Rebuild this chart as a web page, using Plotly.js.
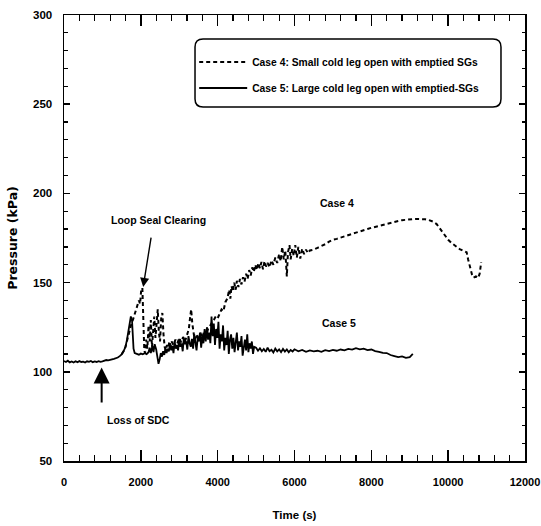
<!DOCTYPE html>
<html>
<head>
<meta charset="utf-8">
<script src="https://cdn.plot.ly/plotly-3.0.1.min.js"></script>
<style>html,body{margin:0;padding:0;background:#fff;}#chart{width:541px;height:526px;}</style>
</head>
<body>
<div id="chart"></div>
<script>
// ---- data ----
var case5Time = [0,50,100,150,200,250,300,350,400,450,500,550,600,650,700,750,800,850,900,950,1000,
  1050,1100,1150,1200,1250,1300,1350,1400,1450,1500,1550,1600,
  1640,1680,1710,1740,1770,1790,1810,1840,
  1900,1950,2000,2050,2100,2150,2200,
  2230,2260,2300,2330,2360,2400,2430,2460,2490,2520,2550,2580,2610,2640,2670,
  2700,2730,2760,2790,2820,2850,2880,2910,2940,2970,3000,3030,3060,3090,3120,3150,3180,3210,3240,3270,3300,3330,3360,3390,3420,3450,3480,3510,3540,3570,3600,3630,3660,3690,
  3720,3750,3780,3810,3840,3870,3900,3930,3960,3990,4020,4050,4080,4110,4140,4170,4200,4230,4260,4290,4320,4350,4380,4410,4440,4470,4500,4530,4560,4590,4620,4650,4680,4710,4740,4770,4800,4830,4860,4890,4920,4950,
  5000,5050,5100,5150,5200,5250,5300,5350,5400,5450,5500,5550,5600,5650,5700,5750,5800,5850,5900,5950,6000,
  6100,6200,6300,6400,6500,6600,6700,6800,6900,7000,7100,7200,7300,7400,7500,7600,7700,7800,7900,8000,8100,8200,8300,8400,8500,8600,8700,8800,8900,9000,
  9050,9080];
var case5Pressure = [106.0,105.5,106.2,105.3,105.8,105.2,105.9,105.4,106.0,105.5,105.7,105.2,105.9,105.6,106.1,105.4,105.8,105.5,106.0,105.6,105.9,
  106.3,106.6,106.4,106.9,107.0,107.3,107.6,108.0,108.8,109.8,111.5,114,
  118,124,128.5,131,129,122,113,110.5,
  110,109.6,110.2,109.8,110.4,109.9,111,
  113.5,110.5,114.5,111,115.5,112.5,108,104.5,107,110.5,108.5,111.5,109.5,113,110.5,
  113,111.5,116,112,114.5,110.5,117,113,115,112,118.5,114,116,111.5,119,115.5,117,112.5,120,116,114,118.5,113,121,115.5,112,119,117,122,113.5,120,116,124,117,
  125,118,122,116,131,120,127,115,124,119,128,113,121,117,126,112,119,115,123,110,118,121,113,119,111,116,122,112,117,114,120,109,115,118,112,121,111,116,113,117,110,114,
  113.5,111.8,113.2,111.5,112.8,111.2,113.5,111.6,112.4,110.8,113,111.5,112.6,111,112.8,111.3,112.5,110.9,112.2,111.4,112.6,
  111.5,112.3,111.2,112,111.5,111.8,111.2,112.1,111.6,112.3,111.8,112.5,112,112.8,112.4,113.2,112.6,113,112.2,112.5,111.6,111.2,110.6,110.5,109.4,108.8,108.2,108.6,107.8,108.2,
  109.5,110];

var case4Time = [1500,1550,1600,1650,1700,1750,1800,1850,1900,1950,1980,2010,2040,2070,2090,2110,2140,2170,2200,2230,2260,2290,2320,2350,2380,2410,2440,2470,2500,2530,2560,2590,2620,2650,2680,2710,2740,2770,2800,2850,2900,2950,3000,3050,3100,3150,3200,3250,3280,3310,3340,3370,3400,3450,3500,3550,3600,3650,3700,3750,3800,3850,3900,3950,4000,4050,4100,4150,4200,4250,4300,4330,4360,4400,4430,4470,4500,4540,4580,4620,4660,4700,4740,4780,4820,4860,4900,4940,4980,5020,5060,5100,5140,5180,5220,5260,5300,5350,5400,5450,5500,5550,5600,5640,5680,5720,5760,5800,5830,5870,5900,5940,5980,6020,6060,6100,6150,6200,6250,6300,6350,6400,6500,6600,6700,6800,6900,7000,7100,7200,7300,7400,7500,7600,7700,7800,7900,8000,8100,8200,8300,8400,8500,8600,8700,8800,8900,9000,9100,9200,9300,9400,9500,9600,9700,9800,9900,10000,10100,10200,10300,10400,10480,10520,10570,10620,10660,10720,10780,10820,10860];
var case4Pressure = [109.8,111.5,114,118.5,123,126.5,129.5,133,137,140,138,146,147,125,112,110.5,118,113,126,117,129,114,124,131,119,128,135,122,117,130,133,121,114,112,115,113.5,116.5,114,117,115,118,116,119,116.5,119.5,117,120.5,124,130,135,127,121,118,121,117.5,122,119,123,120.5,124,126,127.5,129,131,130,133,135,134,139,141,146,141,148,145,150,146,151,147.5,152,149,153,150.5,155,152,157,154,158.5,156,160,157,161,158,161.5,157.5,162,159,161,158.5,162.5,160,164,161,166,162,170,163,168,153.5,167,171,163,169,165,171,164,170,163.5,169,166,168.5,166.5,168,168.5,169.5,170.5,171.5,173,174,174.5,175.3,176,176.7,177.3,178,178.8,179.4,180,180.7,181.3,181.9,182.4,183,183.6,184,184.5,185,185.3,185.5,185.6,185.7,185.7,185.5,185,184.2,182.8,180,176.5,174,172,170.3,168.8,167.8,167,163,158.5,154.5,152.8,153.5,152.6,155,161.5];

var seriesNames = ["Case 4: Small cold leg open with emptied SGs", "Case 5: Large cold leg open with emptied-SGs"];
var xTickVals = [0,2000,4000,6000,8000,10000,12000];
var xTickText = ['0','2000','4000','6000','8000','10000','12000'];
var yTickVals = [50,100,150,200,250,300];
var yTickText = ['50','100','150','200','250','300'];

var FONT = '"Liberation Sans", Arial, sans-serif';

var traces = [
  {x: case4Time, y: case4Pressure, mode: 'lines', name: seriesNames[0], legend: 'legend',
   line: {color: '#000', width: 2, dash: '4px,3px'}},
  {x: case5Time, y: case5Pressure, mode: 'lines', name: seriesNames[1], legend: 'legend2',
   line: {color: '#000', width: 1.8}}
];

// rounded legend frame in paper coords (plot area 461 px wide, 446 px tall)
var bx0 = 0.2842, bx1 = 0.9479, by0 = 0.7937, by1 = 0.9462, rx = 0.0174, ry = 0.0179;
var framePath = 'M' + (bx0+rx) + ',' + by1 + ' L' + (bx1-rx) + ',' + by1 +
  ' Q' + bx1 + ',' + by1 + ' ' + bx1 + ',' + (by1-ry) +
  ' L' + bx1 + ',' + (by0+ry) + ' Q' + bx1 + ',' + by0 + ' ' + (bx1-rx) + ',' + by0 +
  ' L' + (bx0+rx) + ',' + by0 + ' Q' + bx0 + ',' + by0 + ' ' + bx0 + ',' + (by0+ry) +
  ' L' + bx0 + ',' + (by1-ry) + ' Q' + bx0 + ',' + by1 + ' ' + (bx0+rx) + ',' + by1 + ' Z';

var legendCommon = {
  xref: 'paper', yref: 'paper', xanchor: 'left', yanchor: 'middle',
  bgcolor: 'rgba(0,0,0,0)', borderwidth: 0, itemwidth: 48,
  font: {family: FONT, size: 10.3, color: '#000', weight: 'bold'}
};

var annFont = {family: FONT, size: 10.5, color: '#000', weight: 'bold'};

var layout = {
  width: 541, height: 526,
  margin: {l: 64, r: 16, t: 15, b: 65},
  paper_bgcolor: '#fff', plot_bgcolor: '#fff',
  font: {family: FONT, color: '#000'},
  showlegend: true,
  legend: Object.assign({}, legendCommon, {x: 0.2824, y: 0.8946}),
  legend2: Object.assign({}, legendCommon, {x: 0.2824, y: 0.8363}),
  xaxis: {
    range: [0, 12000], tickvals: xTickVals, ticktext: xTickText, ticks: 'inside', ticklen: 11, tickwidth: 1.5,
    minor: {dtick: 400, ticks: 'inside', ticklen: 6, tickwidth: 1.2, tickcolor: '#000'},
    showline: true, linecolor: '#000', linewidth: 1.5, mirror: 'allticks',
    showgrid: false, zeroline: false, tickcolor: '#000', ticklabelstandoff: 10,
    ticklabeloverflow: 'allow',
    tickfont: {family: FONT, size: 11, color: '#000', weight: 'bold'},
    title: {text: 'Time (s)', font: {family: FONT, size: 11.5, color: '#000', weight: 'bold'}, standoff: 24}
  },
  yaxis: {
    range: [50, 300], tickvals: yTickVals, ticktext: yTickText, ticks: 'inside', ticklen: 6, tickwidth: 1.5,
    minor: {dtick: 10, ticks: 'inside', ticklen: 3.5, tickwidth: 1.2, tickcolor: '#000'},
    showline: true, linecolor: '#000', linewidth: 1.5, mirror: 'allticks',
    showgrid: false, zeroline: false, tickcolor: '#000', ticklabelstandoff: 8,
    tickfont: {family: FONT, size: 11.5, color: '#000', weight: 'bold'},
    title: {text: 'Pressure (kPa)', font: {family: '"DejaVu Sans", Verdana, sans-serif', size: 12.5, color: '#000', weight: 'bold'}, standoff: 12}
  },
  shapes: [
    {type: 'path', xref: 'paper', yref: 'paper', path: framePath, line: {color: '#000', width: 1.5}, fillcolor: 'rgba(0,0,0,0)'}
  ],
  annotations: [
    {x: 2457, y: 185.1, xref: 'x', yref: 'y', text: 'Loop Seal Clearing', showarrow: false, font: annFont},
    {x: 2061, y: 147.5, ax: 2273, ay: 176.1, axref: 'x', ayref: 'y', xref: 'x', yref: 'y', text: '',
     showarrow: true, arrowhead: 2, arrowsize: 1.3, arrowwidth: 1.4, arrowcolor: '#000'},
    {x: 1952, y: 73, xref: 'x', yref: 'y', text: 'Loss of SDC', showarrow: false, font: annFont},
    {x: 980, y: 102.4, ax: 980, ay: 82, axref: 'x', ayref: 'y', xref: 'x', yref: 'y', text: '',
     showarrow: true, arrowhead: 2, arrowsize: 1.6, arrowwidth: 2, arrowcolor: '#000'},
    {x: 7110, y: 194.4, xref: 'x', yref: 'y', text: 'Case 4', showarrow: false, font: annFont},
    {x: 7154, y: 127.2, xref: 'x', yref: 'y', text: 'Case 5', showarrow: false, font: annFont}
  ]
};

Plotly.newPlot('chart', traces, layout, {staticPlot: true, displayModeBar: false});
</script>
</body>
</html>
